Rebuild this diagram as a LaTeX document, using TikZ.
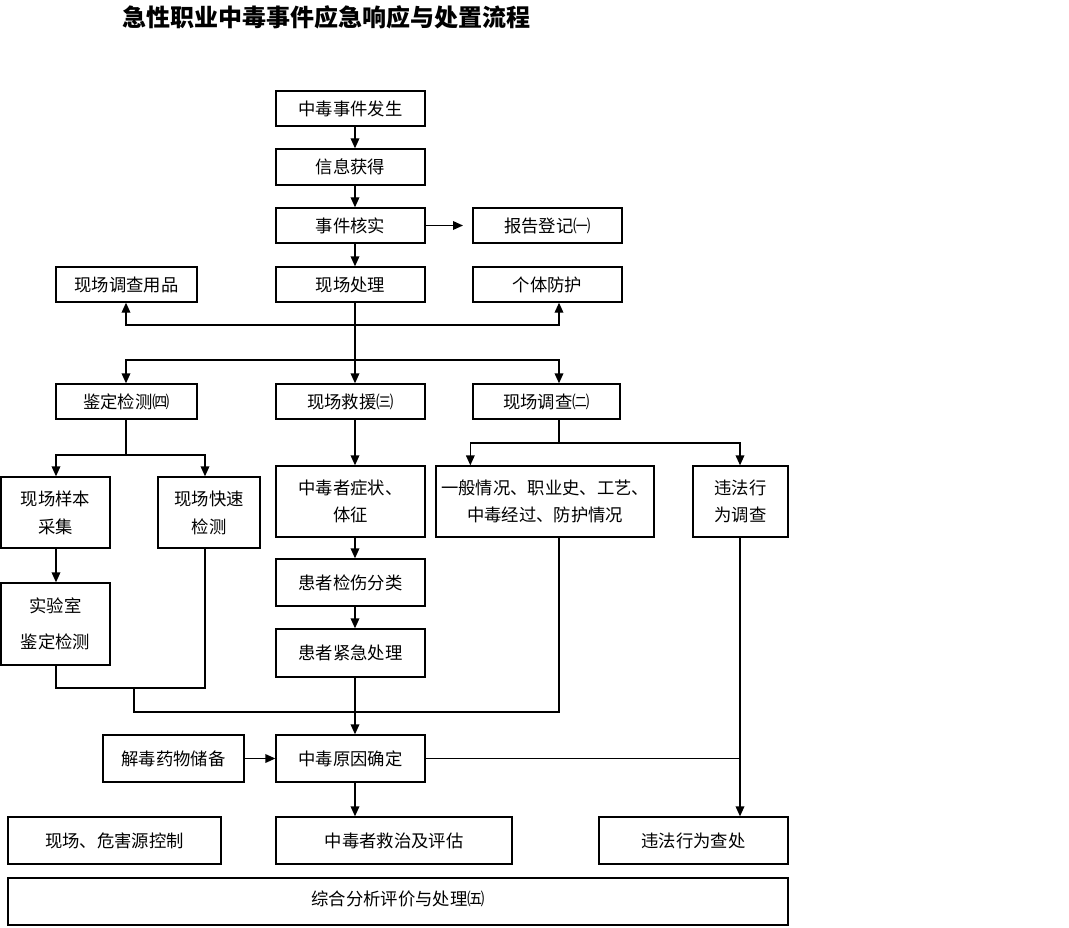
\documentclass[tikz,border=0pt]{standalone}
\usepackage{fontspec}
\setmainfont{Noto Sans CJK SC}
\usetikzlibrary{arrows.meta}
\begin{document}
\begin{tikzpicture}[x=0.75pt,y=-0.75pt,
  box/.style={draw,line width=1pt,inner sep=0pt,align=center,font=\fontsize{13}{20}\selectfont},
  arr/.style={line width=1pt,-{Triangle[length=7.5pt,width=6.5pt]}},
  ln/.style={line width=1pt}]
\useasboundingbox (0,0) rectangle (1069,927);
\newcommand{\bx}[7][]{\node[box,#1, minimum width={(#5-#3)*0.75pt}, minimum height={(#6-#4)*0.75pt}] (#2) at ({(#3+#5)/2},{(#4+#6)/2}) {#7};}

\node[font=\fontsize{18}{18}\selectfont\bfseries] (title) at (326,17) {急性职业中毒事件应急响应与处置流程};

\bx{fs}{276}{91}{425}{126}{中毒事件发生}
\bx{xx}{276}{149}{425}{185}{信息获得}
\bx{hs}{276}{208}{425}{243}{事件核实}
\bx{bg}{473}{208}{622}{243}{报告登记㈠}
\bx{yp}{56}{267}{197}{302}{现场调查用品}
\bx{cl}{276}{267}{425}{302}{现场处理}
\bx{gt}{473}{267}{622}{302}{个体防护}
\bx{jd}{56}{384}{197}{419}{鉴定检测㈣}
\bx{jy}{276}{384}{425}{419}{现场救援㈢}
\bx{dc}{473}{384}{620}{419}{现场调查㈡}
\bx[font=\fontsize{13}{21}\selectfont]{yb}{1}{477}{110}{548}{现场样本\\采集}
\bx[font=\fontsize{13}{21}\selectfont]{ks}{158}{477}{260}{548}{现场快速\\检测}
\bx[font=\fontsize{13}{27}\selectfont]{sy}{1}{583}{110}{665}{实验室\\鉴定检测}
\bx[font=\fontsize{13}{20}\selectfont]{zz}{276}{466}{425}{537}{中毒者症状、\\体征}
\bx[font=\fontsize{13}{20}\selectfont]{yiban}{436}{466}{654}{537}{一般情况、职业史、工艺、\\中毒经过、防护情况}
\bx[font=\fontsize{13}{20}\selectfont]{wf}{693}{466}{788}{537}{违法行\\为调查}
\bx{jf}{276}{559}{425}{606}{患者检伤分类}
\bx{jc}{276}{629}{425}{677}{患者紧急处理}
\bx{jdyw}{103}{735}{244}{782}{解毒药物储备}
\bx{yy}{276}{735}{425}{782}{中毒原因确定}
\bx{kz}{8}{817}{221}{864}{现场、危害源控制}
\bx{jz}{276}{817}{512}{864}{中毒者救治及评估}
\bx{ch}{599}{817}{788}{864}{违法行为查处}
\bx{zh}{8}{878}{788}{925}{\raisebox{4.5pt}{综合分析评价与处理㈤}}

\coordinate (spine) at (355,0);
\coordinate (colR) at (559,0);
\coordinate (colK) at (205,0);
\coordinate (colL) at (56,0);
\coordinate (colW) at (740,0);
\coordinate (b1) at (355,325);
\coordinate (b2) at (355,360);
\coordinate (b3) at (126,455);
\coordinate (b4) at (559,443);
\coordinate (b5) at (134,688);
\coordinate (b6) at (134,712);

\draw[arr] (fs.south -| spine) -- (xx.north -| spine);
\draw[arr] (xx.south -| spine) -- (hs.north -| spine);
\draw[arr] (hs.south -| spine) -- (cl.north -| spine);
\draw[arr] (hs.east) -- ([xshift=-7]bg.west);
\draw[ln] (cl.south -| spine) -- (b2);
\draw[arr] (b1) -| (b3 |- yp.south);
\draw[arr] (b1) -| (colR |- gt.south);
\draw[arr] (b2) -| (b3 |- jd.north);
\draw[arr] (b2) -- (jy.north -| spine);
\draw[arr] (b2) -| (colR |- dc.north);

\draw[ln] (b3 |- jd.south) -- (b3);
\draw[arr] (b3) -| (colL |- yb.north);
\draw[arr] (b3) -| (colK |- ks.north);
\draw[arr] (colL |- yb.south) -- (colL |- sy.north);
\draw[ln] (colL |- sy.south) |- (b5) -| (colK |- ks.south);
\draw[ln] (b5) -- (b6) -| (colR |- yiban.south);

\draw[arr] (jy.south -| spine) -- (zz.north -| spine);
\draw[arr] (zz.south -| spine) -- (jf.north -| spine);
\draw[arr] (jf.south -| spine) -- (jc.north -| spine);
\draw[arr] (jc.south -| spine) -- (yy.north -| spine);

\draw[ln] (colR |- dc.south) -- (b4);
\draw[arr] (b4) -| ([xshift=-56]yiban.north);
\draw[arr] (b4) -| (colW |- wf.north);
\draw[arr] (colW |- wf.south) -- (colW |- ch.north);
\draw[ln] (yy.east) -- (colW |- yy.east);
\draw[arr] (jdyw.east) -- (yy.west);
\draw[arr] (yy.south -| spine) -- (jz.north -| spine);
\end{tikzpicture}
\end{document}
